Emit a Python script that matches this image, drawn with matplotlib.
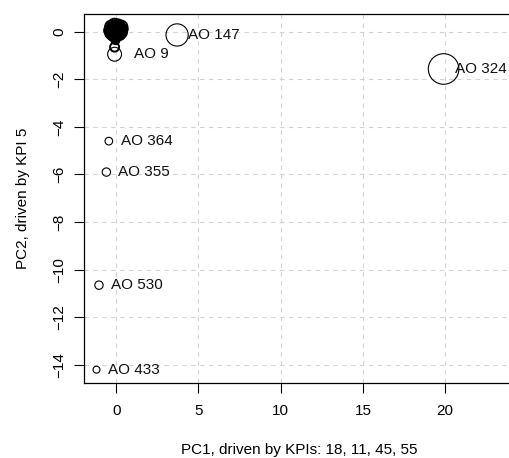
import matplotlib
matplotlib.use("Agg")
import matplotlib.pyplot as plt

plt.rcParams['font.family'] = ['Liberation Sans', 'DejaVu Sans']

# Labelled outliers
labels = ["AO 324", "AO 147", "AO 9", "AO 364", "AO 355", "AO 530", "AO 433"]
pc1_lab = [19.9, 3.7, -0.1, -0.45, -0.6, -1.05, -1.2]
pc2_lab = [-1.57, -0.14, -0.95, -4.6, -5.9, -10.65, -14.2]
cex_lab = [2.2, 1.6, 1.0, 0.55, 0.6, 0.6, 0.5]

# Dense cluster of unlabelled points near the origin
pc1_cl = [-0.3, -0.1, 0.1, 0.3, 0.4, -0.4, -0.2, 0.0, 0.2, 0.3,
          -0.3, -0.15, 0.05, 0.2, 0.35, -0.2, 0.0, 0.15, -0.1, 0.25,
          -0.35, 0.1, -0.2, 0.2, 0.0, -0.1, -0.05, -0.1]
pc2_cl = [0.2, 0.25, 0.25, 0.2, 0.1, 0.05, 0.1, 0.15, 0.1, 0.0,
          -0.05, -0.05, 0.0, -0.1, -0.05, -0.15, -0.15, -0.15, 0.2, 0.2,
          0.1, 0.05, -0.1, -0.12, -0.2, -0.25, -0.35, -0.65]
cex_cl = [0.9, 1.0, 0.9, 0.9, 0.7, 0.8, 1.0, 1.1, 0.9, 0.8,
          0.9, 1.0, 1.0, 0.8, 0.7, 0.8, 0.9, 0.7, 0.8, 0.7,
          0.7, 1.1, 0.9, 0.8, 0.7, 0.6, 0.6, 0.65]

xticks = [0, 5, 10, 15, 20]
yticks = [0, -2, -4, -6, -8, -10, -12, -14]

fig = plt.figure(figsize=(5.09, 4.58), dpi=100)
# axes extends past the right edge of the image (as in the reference crop)
ax = fig.add_axes([84/509, 1-383/458, 440/509, 369/458])

px_per_unit = 16.45
ax.set_xlim(-1.96, -1.96 + 440 / px_per_unit)
ax.set_ylim(-14.76, 0.74)

ax.set_xticks(xticks)
ax.set_yticks(yticks)
ax.grid(True, color='#d3d3d3', linestyle=(0, (4, 4)), linewidth=0.8)
ax.set_axisbelow(True)

base = 5.0  # radius in points for cex=1
def sz(c):
    return [(2 * base * v) ** 2 for v in c]

ax.scatter(pc1_cl, pc2_cl, s=sz(cex_cl), facecolors='none', edgecolors='black',
           linewidths=1.4, zorder=3)
ax.scatter(pc1_lab, pc2_lab, s=sz(cex_lab), facecolors='none', edgecolors='black',
           linewidths=0.8, zorder=3)

offsets = [8.5, 8.0, 14.0, 8.5, 8.5, 8.5, 8.0]
for x, y, t, o in zip(pc1_lab, pc2_lab, labels, offsets):
    ax.annotate(t, (x, y), xytext=(o, 0), textcoords='offset points',
                ha='left', va='center', fontsize=11, color='#111111')

for sp in ax.spines.values():
    sp.set_linewidth(0.9)

ax.tick_params(axis='both', direction='out', length=7, width=0.8,
               labelsize=11, colors='black')
ax.tick_params(axis='x', pad=8)
ax.tick_params(axis='y', pad=6)

def fmt(v):
    return str(v).replace('-', '\u2212')
ax.set_xticklabels([fmt(v) for v in xticks])
ax.set_yticklabels([fmt(v) for v in yticks], rotation=90, va='center')

ax.set_xlabel("PC1, driven by KPIs: 18, 11, 45, 55", fontsize=11)
ax.set_ylabel("PC2, driven by KPI 5", fontsize=11)
ax.xaxis.set_label_coords(0.5 * 430 / 440, (383 - 450) / 369)
ax.xaxis.label.set_va('center')
ax.yaxis.set_label_coords((23 - 84) / 440, 0.5)
ax.yaxis.label.set_va('center')

fig.savefig("out.png", dpi=100)
